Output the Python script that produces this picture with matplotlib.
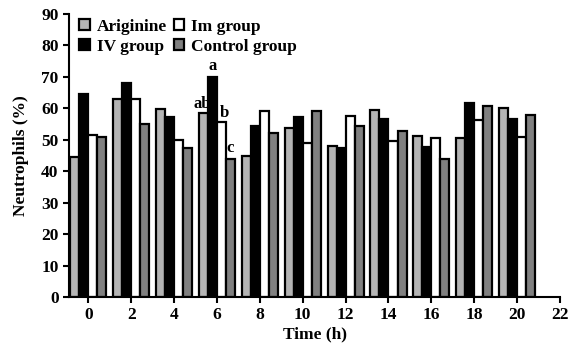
import matplotlib.pyplot as plt
import numpy as np

# Datos (neutrófilos %)
tiempos = [0, 2, 4, 6, 8, 10, 12, 14, 16, 18, 20]
ariginine = [44.6, 63.0, 59.7, 58.5, 44.9, 53.9, 48.0, 59.6, 51.3, 50.7, 60.2]
iv_group = [64.4, 68.0, 57.3, 70.0, 54.3, 57.3, 47.5, 56.6, 47.6, 61.8, 56.6]
im_group = [51.5, 63.0, 49.8, 55.7, 59.0, 49.0, 57.5, 49.6, 50.7, 56.2, 50.9]
control = [50.9, 54.9, 47.5, 43.9, 52.3, 59.2, 54.3, 52.9, 44.0, 60.9, 57.8]

series = [
    ('Ariginine', ariginine, '#b4b4b4'),
    ('IV group', iv_group, 'black'),
    ('Im group', im_group, 'white'),
    ('Control group', control, '#808080'),
]

plt.rcParams['font.family'] = ['Liberation Serif', 'DejaVu Serif']

fig = plt.figure(figsize=(5.77, 3.56), dpi=100)
ax = fig.add_axes([0.1196, 0.1657, 0.851, 0.795])

x = np.array(tiempos)
ancho = 0.42
desplazamientos = [-1.5 * ancho, -0.5 * ancho, 0.5 * ancho, 1.5 * ancho]

barras = []
for (nombre, valores, color), d in zip(series, desplazamientos):
    b = ax.bar(x + d, valores, width=ancho, color=color, edgecolor='black',
               linewidth=1.6, label=nombre)
    barras.append(b)

# Letras de significancia en el grupo de 6 h
i6 = tiempos.index(6)
ax.text(6 + desplazamientos[1], iv_group[i6] + 0.8, 'a', ha='center', va='bottom',
        fontsize=12, fontweight='bold')
ax.text(6 + desplazamientos[0] - 0.05, ariginine[i6] + 0.3, 'ab', ha='center', va='bottom',
        fontsize=12, fontweight='bold')
ax.text(6 + desplazamientos[2] + 0.12, im_group[i6] + 0.3, 'b', ha='center', va='bottom',
        fontsize=12, fontweight='bold')
ax.text(6 + desplazamientos[3], control[i6] + 1.0, 'c', ha='center', va='bottom',
        fontsize=12, fontweight='bold')

ax.set_xlim(-0.9, 22)
ax.set_ylim(0, 90)
ax.set_xticks(range(0, 23, 2))
ax.set_yticks(range(0, 91, 10))

for s in ['top', 'right']:
    ax.spines[s].set_visible(False)
for s in ['left', 'bottom']:
    ax.spines[s].set_linewidth(1.5)

ax.tick_params(direction='out', length=4, width=1.5, labelsize=12.5)
for lbl in ax.get_xticklabels() + ax.get_yticklabels():
    lbl.set_fontweight('bold')

ax.set_xlabel('Time (h)', fontsize=12.5, fontweight='bold', labelpad=2)
ax.set_ylabel('Neutrophils (%)', fontsize=12.5, fontweight='bold', labelpad=9)

leg = ax.legend(handles=[barras[0], barras[1], barras[2], barras[3]], ncol=2,
                loc='upper left', bbox_to_anchor=(0.0, 1.02), frameon=False,
                fontsize=12.5, handlelength=0.6, handleheight=0.6,
                handletextpad=0.4, columnspacing=0.4, labelspacing=0.25,
                borderaxespad=0.2)
for t in leg.get_texts():
    t.set_fontweight('bold')

fig.savefig('out.png', dpi=100)
